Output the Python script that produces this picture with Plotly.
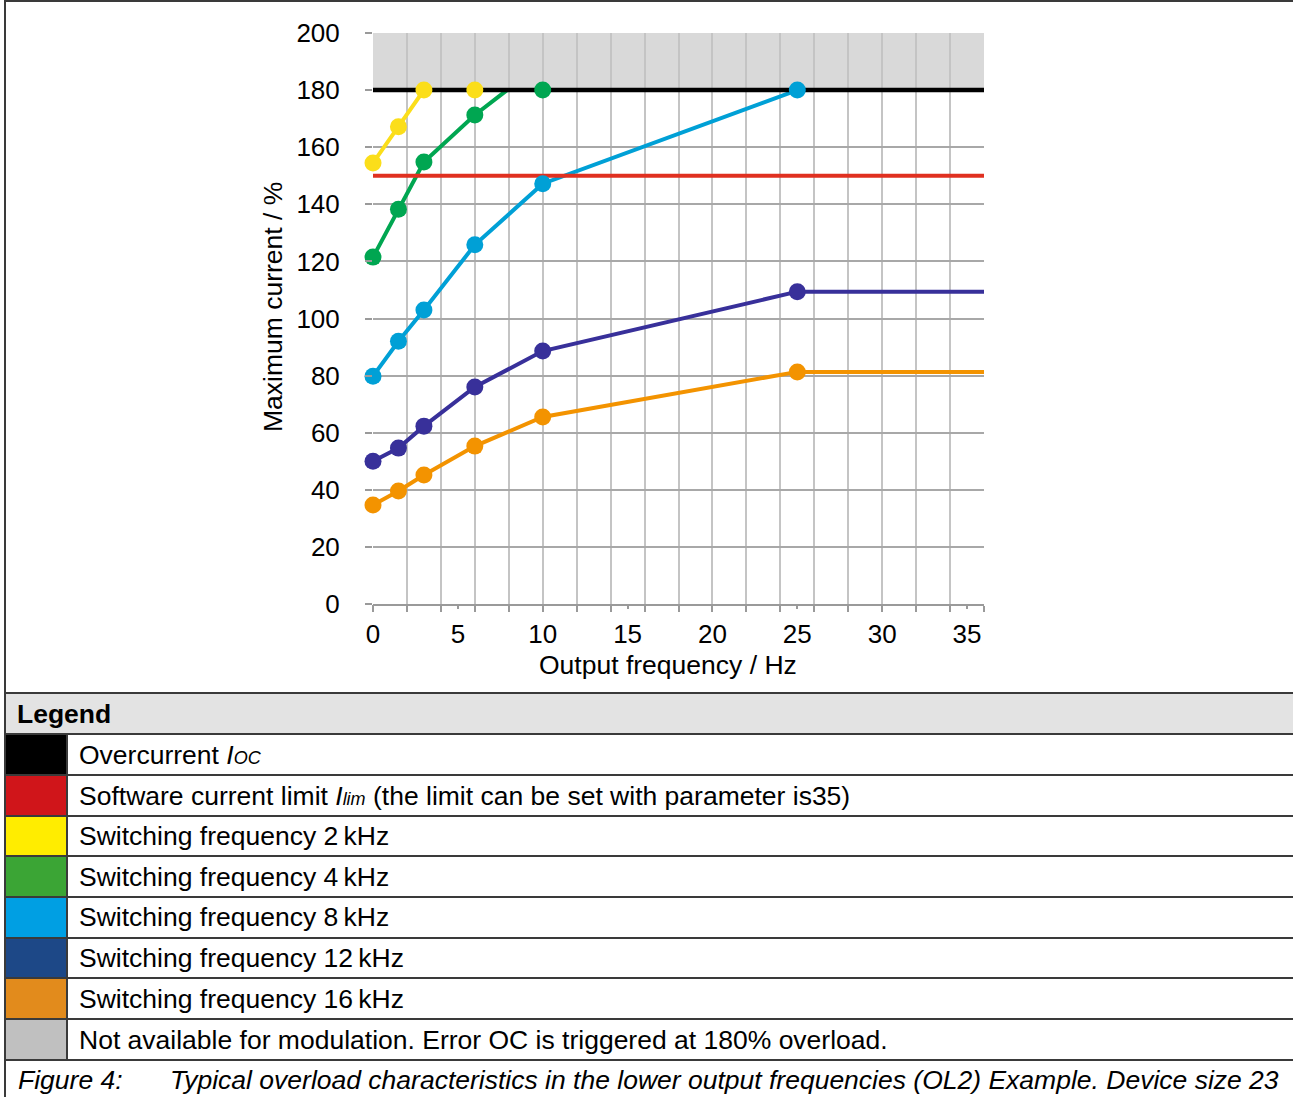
import plotly.graph_objects as go

# ---------------- data ----------------
freq_2k = [0, 1.5, 3, 6]
cur_2k = [154.5, 167.2, 180, 180]
mark_2k = [1, 1, 1, 1]

freq_4k = [0, 1.5, 3, 6, 7.9, 10]
cur_4k = [121.5, 138.3, 154.8, 171.3, 180, 180]
mark_4k = [1, 1, 1, 1, 0, 1]

freq_8k = [0, 1.5, 3, 6, 10, 25]
cur_8k = [79.8, 92.0, 103.0, 125.8, 147.2, 180]
mark_8k = [1, 1, 1, 1, 1, 1]

freq_12k = [0, 1.5, 3, 6, 10, 25, 36]
cur_12k = [50.0, 54.6, 62.3, 76.0, 88.6, 109.4, 109.4]
mark_12k = [1, 1, 1, 1, 1, 1, 0]

freq_16k = [0, 1.5, 3, 6, 10, 25, 36]
cur_16k = [34.7, 39.6, 45.2, 55.3, 65.5, 81.3, 81.3]
mark_16k = [1, 1, 1, 1, 1, 1, 0]

oc_level = 180
lim_level = 150
x_max = 36
y_max = 200
x_tick_vals = [0, 5, 10, 15, 20, 25, 30, 35]
y_tick_vals = [0, 20, 40, 60, 80, 100, 120, 140, 160, 180, 200]

legend_labels = [
    "Overcurrent <i>I<span style='font-size:18px'>OC</span></i>",
    "Software current limit <i>I<span style='font-size:18px'>lim</span></i> (the limit can be set with parameter is35)",
    "Switching frequency 2\u2009kHz",
    "Switching frequency 4\u2009kHz",
    "Switching frequency 8\u2009kHz",
    "Switching frequency 12\u2009kHz",
    "Switching frequency 16\u2009kHz",
    "Not available for modulation. Error OC is triggered at 180% overload.",
]
legend_swatches = ["#000000", "#d0151a", "#ffed00", "#3ba535", "#009fe3",
                   "#1d4887", "#e28b1c", "#c0c0c0"]

# ---------------- styling ----------------
FONT = "Liberation Sans, Arial, sans-serif"
TXT = 26.5
W, H = 1293, 1097
PL, PR, PT, PB = 373, 984, 33, 604


def px(x):
    return (x - PL) / (PR - PL)


def py(y):
    return (PB - y) / (PB - PT)


series = [
    (freq_2k, cur_2k, mark_2k, "#fbde1a"),
    (freq_4k, cur_4k, mark_4k, "#00a651"),
    (freq_8k, cur_8k, mark_8k, "#00a0d6"),
    (freq_12k, cur_12k, mark_12k, "#38309a"),
    (freq_16k, cur_16k, mark_16k, "#f39300"),
]

fig = go.Figure()

# series lines (below the limit lines)
for fx, fy, mk, col in series:
    fig.add_trace(go.Scatter(x=fx, y=fy, mode="lines", cliponaxis=False,
                             line=dict(color=col, width=4),
                             hoverinfo="skip", showlegend=False))

# limit lines
fig.add_trace(go.Scatter(x=[0, x_max], y=[lim_level, lim_level], mode="lines",
                         line=dict(color="#e03020", width=4), showlegend=False))
fig.add_trace(go.Scatter(x=[0, x_max], y=[oc_level, oc_level], mode="lines",
                         line=dict(color="#000000", width=4.5), showlegend=False))

# markers on top
for fx, fy, mk, col in series:
    fig.add_trace(go.Scatter(x=fx, y=fy, mode="markers", cliponaxis=False,
                             marker=dict(color=col, size=[17 * m for m in mk],
                                         opacity=1, line=dict(width=0)),
                             showlegend=False))

# invisible trace for the label axis
fig.add_trace(go.Scatter(x=[0, x_max], y=[0, 0], xaxis="x2", mode="markers",
                         marker=dict(opacity=0), hoverinfo="skip", showlegend=False))

shapes = []
# grey "not available" region
shapes.append(dict(type="rect", xref="x", yref="y", x0=0, x1=x_max,
                   y0=oc_level, y1=y_max, fillcolor="#d9d9d9",
                   line=dict(width=0), layer="below"))

# table
LINE = dict(color="#3a3a3a", width=2)
rows = [734, 775, 816, 856, 897, 938, 978, 1019, 1060]
shapes.append(dict(type="rect", xref="paper", yref="paper", x0=px(5), x1=px(W + 5),
                   y0=py(734), y1=py(693), fillcolor="#e3e3e3", line=dict(width=0),
                   layer="below"))
for i, col in enumerate(legend_swatches):
    shapes.append(dict(type="rect", xref="paper", yref="paper", x0=px(5), x1=px(67),
                       y0=py(rows[i + 1]), y1=py(rows[i]), fillcolor=col,
                       line=dict(width=0), layer="below"))
for r in [1, 693] + rows:
    shapes.append(dict(type="line", xref="paper", yref="paper", x0=px(5), x1=px(W + 5),
                       y0=py(r), y1=py(r), line=LINE))
shapes.append(dict(type="line", xref="paper", yref="paper", x0=px(5), x1=px(5),
                   y0=py(0), y1=py(H + 5), line=LINE))
shapes.append(dict(type="line", xref="paper", yref="paper", x0=px(67), x1=px(67),
                   y0=py(734), y1=py(1060), line=LINE))

ann = []
ann.append(dict(text="<b>Legend</b>", xref="paper", yref="paper", x=px(15), y=py(714),
                xanchor="left", yanchor="middle", showarrow=False,
                font=dict(family=FONT, size=TXT, color="black")))
for i, lab in enumerate(legend_labels):
    yc = (rows[i] + rows[i + 1]) / 2
    ann.append(dict(text=lab, xref="paper", yref="paper", x=px(77), y=py(yc),
                    xanchor="left", yanchor="middle", showarrow=False,
                    font=dict(family=FONT, size=TXT, color="black")))
ann.append(dict(text="<i>Figure 4:</i>", xref="paper", yref="paper", x=px(16), y=py(1080),
                xanchor="left", yanchor="middle", showarrow=False,
                font=dict(family=FONT, size=TXT, color="black")))
ann.append(dict(text="<i>Typical overload characteristics in the lower output frequencies (OL2) Example. Device size 23</i>",
                xref="paper", yref="paper", x=px(168), y=py(1080),
                xanchor="left", yanchor="middle", showarrow=False,
                font=dict(family=FONT, size=TXT, color="black")))
# axis titles
ann.append(dict(text="Output frequency / Hz", xref="paper", yref="paper", x=px(668), y=py(665),
                xanchor="center", yanchor="middle", showarrow=False,
                font=dict(family=FONT, size=TXT, color="black")))
ann.append(dict(text="Maximum current / %", xref="paper", yref="paper", x=px(273), y=py(307),
                xanchor="center", yanchor="middle", showarrow=False, textangle=-90,
                font=dict(family=FONT, size=TXT, color="black")))

fig.update_layout(
    width=W, height=H,
    margin=dict(l=PL, r=W - PR, t=PT, b=H - PB),
    paper_bgcolor="white", plot_bgcolor="white",
    showlegend=False,
    font=dict(family=FONT, size=26, color="black"),
    xaxis=dict(range=[0, x_max], tickmode="linear", tick0=0, dtick=2,
               showgrid=True, gridcolor="#c4c4c4", gridwidth=1.5,
               showticklabels=False, ticks="outside", ticklen=6,
               tickcolor="#9a9a9a", tickwidth=1.5,
               showline=True, linecolor="#9a9a9a", linewidth=2,
               zeroline=False, fixedrange=True),
    xaxis2=dict(range=[0, x_max], overlaying="x", side="bottom", anchor="y",
                tickmode="array", tickvals=x_tick_vals,
                showgrid=False, ticks="outside", ticklen=4, tickcolor="#9a9a9a",
                tickwidth=1.5, ticklabelstandoff=3,
                tickfont=dict(family=FONT, size=26, color="black"),
                showline=False, zeroline=False),
    yaxis=dict(range=[0, y_max], tickmode="array", tickvals=y_tick_vals,
               showgrid=True, gridcolor="#a8a8a8", gridwidth=1.5,
               ticks="outside", ticklen=7, tickcolor="#9a9a9a", tickwidth=1.5,
               ticklabelstandoff=20,
               tickfont=dict(family=FONT, size=26, color="black"),
               showline=False, zeroline=False, fixedrange=True),
    shapes=shapes,
    annotations=ann,
)

fig.write_html("out.html", config={"displayModeBar": False},
               post_script="document.body.style.margin='0';")
